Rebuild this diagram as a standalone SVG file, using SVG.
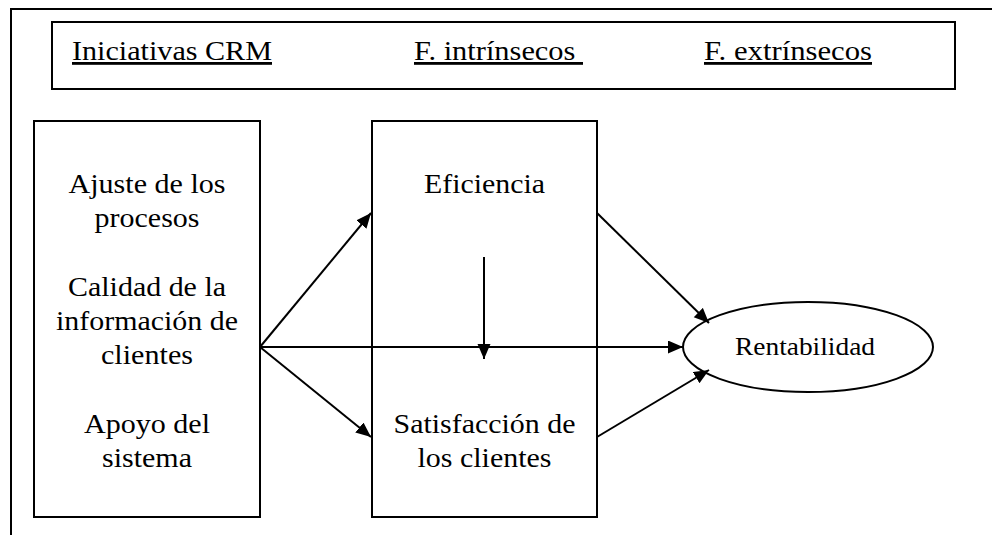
<svg xmlns="http://www.w3.org/2000/svg" width="992" height="535" viewBox="0 0 992 535">
<style>
text{font-family:'Liberation Serif','Times New Roman',Times,serif;fill:#000}
.t{font-size:28px;text-anchor:middle}
.h{font-size:28px;text-decoration:underline}
.box{fill:#fff;stroke:#000;stroke-width:2}
.c{stroke:#000;stroke-width:2;fill:none;marker-end:url(#ah)}
</style>
<defs>
<marker id="ah" markerUnits="userSpaceOnUse" markerWidth="16" markerHeight="14" refX="15" refY="6.5" orient="auto">
<path d="M0,0 L15,6.5 L0,13 Z" fill="#000"/>
</marker>
</defs>
<rect width="992" height="535" fill="#fff"/>
<g id="frame">
<path d="M11,535 V9 H992" fill="none" stroke="#000" stroke-width="2"/>
</g>
<g id="header">
<rect class="box" x="52" y="22" width="903" height="67"/>
<text class="h" x="72" y="60" textLength="200" lengthAdjust="spacingAndGlyphs">Iniciativas CRM</text>
<text class="h" x="414" y="60" textLength="169" lengthAdjust="spacingAndGlyphs">F. intrínsecos&#160;</text>
<text class="h" x="704" y="60" textLength="168" lengthAdjust="spacingAndGlyphs">F. extrínsecos</text>
</g>
<g id="crm">
<rect class="box" x="34" y="121" width="226" height="396"/>
<text class="t" x="147" y="193" textLength="157" lengthAdjust="spacingAndGlyphs">Ajuste de los</text>
<text class="t" x="147" y="227" textLength="105" lengthAdjust="spacingAndGlyphs">procesos</text>
<text class="t" x="147" y="296" textLength="158" lengthAdjust="spacingAndGlyphs">Calidad de la</text>
<text class="t" x="147" y="330" textLength="182" lengthAdjust="spacingAndGlyphs">información de</text>
<text class="t" x="147" y="364" textLength="92" lengthAdjust="spacingAndGlyphs">clientes</text>
<text class="t" x="147" y="433" textLength="126" lengthAdjust="spacingAndGlyphs">Apoyo del</text>
<text class="t" x="147" y="467" textLength="90" lengthAdjust="spacingAndGlyphs">sistema</text>
</g>
<g id="intrinsecos">
<rect class="box" x="372" y="121" width="225" height="396"/>
<text class="t" x="484.5" y="193" textLength="121" lengthAdjust="spacingAndGlyphs">Eficiencia</text>
<text class="t" x="484.5" y="433" textLength="182" lengthAdjust="spacingAndGlyphs">Satisfacción de</text>
<text class="t" x="484.5" y="467" textLength="134" lengthAdjust="spacingAndGlyphs">los clientes</text>
</g>
<g id="rentabilidad">
<ellipse cx="808" cy="347" rx="125" ry="45" fill="#fff" stroke="#000" stroke-width="2"/>
<text class="t" x="805" y="355" style="font-size:25px" textLength="140" lengthAdjust="spacingAndGlyphs">Rentabilidad</text>
</g>
<g id="connectors">
<line class="c" x1="260" y1="347" x2="371" y2="213"/>
<line class="c" x1="260" y1="347" x2="371" y2="437"/>
<line class="c" x1="260" y1="347" x2="683" y2="347"/>
<line class="c" x1="484" y1="257" x2="484" y2="359"/>
<line class="c" x1="597" y1="213" x2="709" y2="323"/>
<line class="c" x1="597" y1="437" x2="709" y2="370"/>
</g>
</svg>
